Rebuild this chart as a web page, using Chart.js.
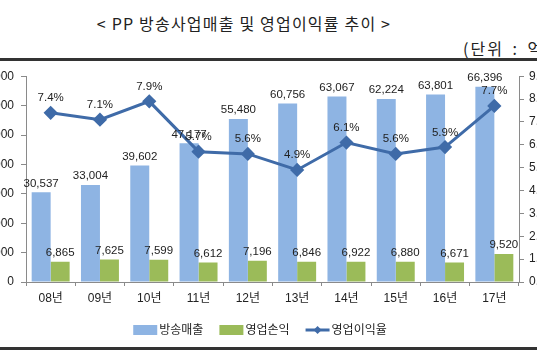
<!DOCTYPE html>
<html>
<head>
<meta charset="utf-8">
<script src="https://cdn.jsdelivr.net/npm/chart.js@4/dist/chart.umd.min.js"></script>
<style>
  body { margin: 0; width: 537px; height: 360px; overflow: hidden; background: #fff; position: relative;
         font-family: 'Liberation Sans', 'Noto Sans CJK KR', sans-serif; color: #222; }
  #title { position: absolute; top: 11px; left: 0; width: 488px; text-align: center; font-size: 16px;
           letter-spacing: 1.2px; font-family: 'Noto Sans CJK KR', sans-serif; }
  #unit { position: absolute; top: 36px; left: 463px; font-size: 16px; white-space: nowrap;
          letter-spacing: 2px; word-spacing: 3px; font-family: 'Noto Sans CJK KR', sans-serif; }
  .rule { position: absolute; left: 0; width: 537px; height: 3px; background: #333; }
  #wrap { position: absolute; left: -50px; top: 62px; width: 620px; height: 283px; }
</style>
</head>
<body>
<div id="title">&lt; PP 방송사업매출 및 영업이익률 추이 &gt;</div>
<div id="unit">(단위 : 억원, %)</div>
<div class="rule" style="top:58px"></div>
<div id="wrap"><canvas id="chart"></canvas></div>
<div class="rule" style="top:347px"></div>
<script>
const years = ['08년', '09년', '10년', '11년', '12년', '13년', '14년', '15년', '16년', '17년'];
const sales = [30537, 33004, 39602, 47177, 55480, 60756, 63067, 62224, 63801, 66396];
const profit = [6865, 7625, 7599, 6612, 7196, 6846, 6922, 6880, 6671, 9520];
const margin = [7.4, 7.1, 7.9, 5.7, 5.6, 4.9, 6.1, 5.6, 5.9, 7.7];

const blue = '#8EB4E3';
const green = '#9BBB59';
const lineColor = '#3F6BA8';
const axisColor = '#8A8A8A';
const numFont = "'Liberation Sans', Arial, sans-serif";
const krFont = "'Liberation Sans', 'Noto Sans CJK KR', sans-serif";

// value labels above bars and points
const valueLabels = {
    id: 'valueLabels',
    afterDatasetsDraw(chart) {
        const ctx = chart.ctx;
        ctx.save();
        ctx.font = '11.5px ' + numFont;
        ctx.fillStyle = '#222';
        ctx.textAlign = 'center';
        ctx.textBaseline = 'bottom';
        chart.data.datasets.forEach((ds, i) => {
            const meta = chart.getDatasetMeta(i);
            meta.data.forEach((el, j) => {
                let text, y;
                if (ds.type === 'line') {
                    text = ds.data[j].toFixed(1) + '%';
                    y = el.y - 9;
                } else {
                    text = ds.data[j].toLocaleString('en-US');
                    y = el.y - 3;
                }
                ctx.fillText(text, el.x, y);
            });
        });
        ctx.restore();
    }
};

// legend under the axis
const bottomLegend = {
    id: 'bottomLegend',
    afterDraw(chart) {
        const ctx = chart.ctx;
        ctx.save();
        ctx.font = '12px ' + krFont;
        ctx.textBaseline = 'middle';
        const items = chart.data.datasets.map(ds => ({ label: ds.label, ds: ds }));
        const boxW = 24, gapText = 2, gapItem = 16;
        let total = 0;
        items.forEach((it, k) => {
            it.w = ctx.measureText(it.label).width;
            total += boxW + gapText + it.w + (k < items.length - 1 ? gapItem : 0);
        });
        let x = 310 - total / 2;
        const y = 268;
        items.forEach(it => {
            if (it.ds.type === 'line') {
                ctx.strokeStyle = it.ds.borderColor;
                ctx.lineWidth = 3;
                ctx.beginPath();
                ctx.moveTo(x, y);
                ctx.lineTo(x + boxW, y);
                ctx.stroke();
                ctx.fillStyle = it.ds.borderColor;
                ctx.beginPath();
                ctx.moveTo(x + boxW / 2, y - 4);
                ctx.lineTo(x + boxW / 2 + 4, y);
                ctx.lineTo(x + boxW / 2, y + 4);
                ctx.lineTo(x + boxW / 2 - 4, y);
                ctx.closePath();
                ctx.fill();
            } else {
                ctx.fillStyle = it.ds.backgroundColor;
                ctx.fillRect(x, y - 5, boxW, 10);
            }
            ctx.fillStyle = '#222';
            ctx.fillText(it.label, x + boxW + gapText, y + 1);
            x += boxW + gapText + it.w + gapItem;
        });
        ctx.restore();
    }
};

new Chart(document.getElementById('chart'), {
    type: 'bar',
    data: {
        labels: years,
        datasets: [
            {
                label: '방송매출',
                data: sales,
                backgroundColor: blue,
                yAxisID: 'y',
                categoryPercentage: 0.77,
                barPercentage: 1.0,
                order: 1
            },
            {
                label: '영업손익',
                data: profit,
                backgroundColor: green,
                yAxisID: 'y',
                categoryPercentage: 0.77,
                barPercentage: 1.0,
                order: 1
            },
            {
                type: 'line',
                label: '영업이익율',
                data: margin,
                yAxisID: 'y1',
                borderColor: lineColor,
                backgroundColor: lineColor,
                borderWidth: 3,
                pointStyle: 'rectRot',
                pointRadius: 5,
                pointBackgroundColor: lineColor,
                pointBorderColor: lineColor,
                tension: 0,
                order: 0
            }
        ]
    },
    options: {
        responsive: true,
        maintainAspectRatio: false,
        animation: false,
        layout: { padding: { top: 14, bottom: 33, left: 0, right: 0 } },
        plugins: {
            legend: { display: false },
            tooltip: { enabled: false }
        },
        scales: {
            x: {
                offset: true,
                grid: { display: true, drawOnChartArea: false, offset: true, color: axisColor, tickLength: 4 },
                border: { color: axisColor },
                ticks: { color: '#222', font: { size: 12, family: krFont }, padding: 5 },
                afterFit(scale) { scale.height = 30; }
            },
            y: {
                position: 'left',
                min: 0,
                max: 70000,
                grid: { display: true, drawOnChartArea: false, color: axisColor, tickLength: 5 },
                border: { color: axisColor },
                ticks: {
                    stepSize: 10000,
                    color: '#222',
                    font: { size: 12, family: numFont },
                    padding: 7,
                    callback: v => v.toLocaleString('en-US')
                },
                afterFit(scale) { scale.width = 76; }
            },
            y1: {
                position: 'right',
                min: 0,
                max: 9,
                grid: { display: true, drawOnChartArea: false, color: axisColor, tickLength: 5 },
                border: { color: axisColor },
                ticks: {
                    stepSize: 1,
                    color: '#222',
                    font: { size: 12, family: numFont },
                    padding: 5,
                    callback: v => v.toFixed(1) + '%'
                },
                afterFit(scale) { scale.width = 51; }
            }
        }
    },
    plugins: [valueLabels, bottomLegend]
});
</script>
</body>
</html>
